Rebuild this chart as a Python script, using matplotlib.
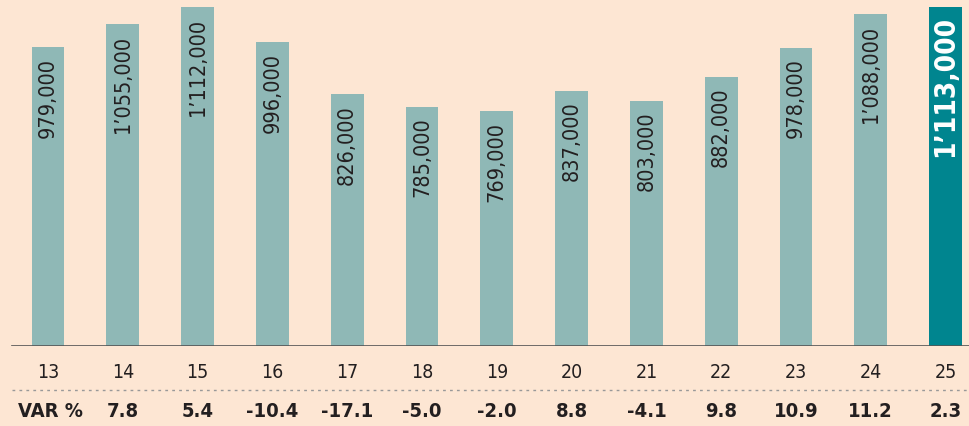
import matplotlib.pyplot as plt

years = ['13', '14', '15', '16', '17', '18', '19', '20', '21', '22', '23', '24', '25']
values = [979000, 1055000, 1112000, 996000, 826000, 785000, 769000,
          837000, 803000, 882000, 978000, 1088000, 1113000]
var_pct = ['', '7.8', '5.4', '-10.4', '-17.1', '-5.0', '-2.0', '8.8',
           '-4.1', '9.8', '10.9', '11.2', '2.3']

bg = '#fde6d3'
bar_col = '#8fb8b6'
last_col = '#00858f'
txt = '#231f20'
narrow = dict(family='DejaVu Sans', fontstretch='condensed')


def fmt(v):
    s = f'{v:,}'
    if v >= 1000000:
        s = s[0] + '\u2019' + s[2:]
    return s


fig = plt.figure(figsize=(9.69, 4.27), dpi=100, facecolor=bg)
ax = fig.add_axes([0, 80 / 427, 1, 347 / 427])
ax.set_facecolor(bg)

x = list(range(len(years)))
colors = [bar_col] * (len(years) - 1) + [last_col]
ax.bar(x, values, width=0.44, color=colors, edgecolor='none')

ax.set_xlim(-48 / 74.8, (969 - 48) / 74.8)
ax.set_ylim(0, 347 / 0.305 * 1000)
ax.axis('off')
ax.axhline(0, xmin=12 / 969, xmax=1, color='#555555', lw=1.2)

for i, v in enumerate(values):
    if i == len(values) - 1:
        ax.annotate(fmt(v), (i, v), xytext=(0, -6), textcoords='offset points',
                    rotation=90, ha='center', va='top', color='white',
                    fontsize=20, fontweight='bold', **narrow)
    else:
        ax.annotate(fmt(v), (i, v), xytext=(0, -7), textcoords='offset points',
                    rotation=90, ha='center', va='top', color=txt,
                    fontsize=15.5, **narrow)

# year labels and VAR row in figure coords
for i, y in enumerate(years):
    xf = ax.transData.transform((i, 0))[0] / 969
    fig.text(xf, 1 - 373 / 427, y, ha='center', va='center', fontsize=14,
             color=txt, **narrow)
    if var_pct[i]:
        fig.text(xf, 1 - 412 / 427, var_pct[i], ha='center', va='center',
                 fontsize=14.5, fontweight='bold', color=txt, **narrow)

fig.text(18 / 969, 1 - 412 / 427, 'VAR %', ha='left', va='center', fontsize=14.5,
         fontweight='bold', color=txt, **narrow)
fig.add_artist(plt.Line2D([12 / 969, 1], [1 - 391 / 427] * 2, color='#999999',
                          lw=1, ls=(0, (2, 3))))

fig.savefig('out.png', dpi=100, facecolor=bg)
